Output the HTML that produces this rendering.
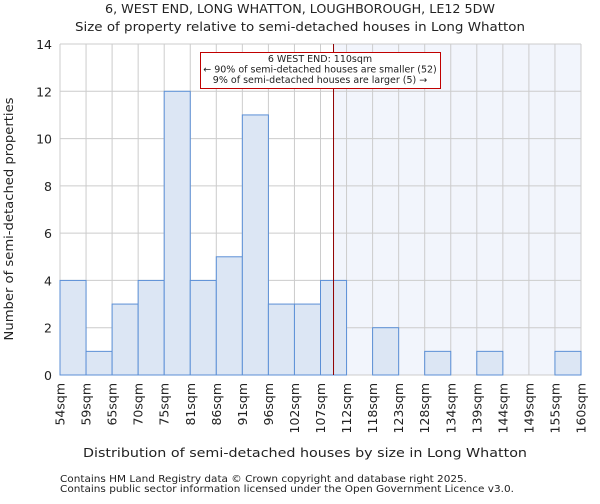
<!DOCTYPE html>
<html><head><meta charset="utf-8"><style>
body{margin:0;background:#fff;font-family:"DejaVu Sans","Liberation Sans",sans-serif}
svg text{font-family:"DejaVu Sans","Liberation Sans",sans-serif;fill:#222}
</style></head><body>
<svg id="chart" width="600" height="500">
<text x="300" y="13" font-size="12" text-anchor="middle" textLength="390" lengthAdjust="spacingAndGlyphs">6, WEST END, LONG WHATTON, LOUGHBOROUGH, LE12 5DW</text>
<text x="300" y="31" font-size="12" text-anchor="middle" textLength="450" lengthAdjust="spacingAndGlyphs">Size of property relative to semi-detached houses in Long Whatton</text>
<g id="plot"></g>
<text x="305" y="457" font-size="12" text-anchor="middle" textLength="444" lengthAdjust="spacingAndGlyphs">Distribution of semi-detached houses by size in Long Whatton</text>
<text transform="translate(13,219) rotate(-90)" font-size="12" text-anchor="middle" textLength="243" lengthAdjust="spacingAndGlyphs">Number of semi-detached properties</text>
<text x="60" y="482" font-size="10" textLength="407" lengthAdjust="spacingAndGlyphs">Contains HM Land Registry data © Crown copyright and database right 2025.</text>
<text x="60" y="492" font-size="10" textLength="454" lengthAdjust="spacingAndGlyphs">Contains public sector information licensed under the Open Government Licence v3.0.</text>
</svg>
<script>
const binLabels=["54sqm","59sqm","65sqm","70sqm","75sqm","81sqm","86sqm","91sqm","96sqm","102sqm","107sqm","112sqm","118sqm","123sqm","128sqm","134sqm","139sqm","144sqm","149sqm","155sqm","160sqm"];
const counts=[4,1,3,4,12,4,5,11,3,3,4,0,2,0,1,0,1,0,0,1];
const yTicks=[0,2,4,6,8,10,12,14];
const markerBin=10.5;
const ns="http://www.w3.org/2000/svg";
const g=document.getElementById("plot");
const L=60,R=581,T=44,B=375,yMax=14;
const bw=(R-L)/counts.length;
const x=i=>L+i*bw;
const y=v=>B-(v/yMax)*(B-T);
function mk(t,a,p){const e=document.createElementNS(ns,t);for(const k in a)e.setAttribute(k,a[k]);(p||g).appendChild(e);return e;}
const mx=x(markerBin);
let sh=mk("rect",{x:mx,y:T,width:R-mx,height:B-T,fill:"#f2f5fc"});


for(let i=0;i<binLabels.length;i++){const l=mk("line",{x1:x(i),x2:x(i),y1:T,y2:B,stroke:"#ccc","stroke-width":1});

}
yTicks.forEach(v=>{const l=mk("line",{x1:L,x2:R,y1:y(v),y2:y(v),stroke:"#ccc","stroke-width":1});


const t=mk("text",{x:L-8,y:y(v)+5,"font-size":12.5,"text-anchor":"end"});t.textContent=v;

});
counts.forEach((c,i)=>{if(c<=0)return;const r=mk("rect",{x:x(i),y:y(c),width:bw,height:y(0)-y(c),fill:"#dce6f4",stroke:"#5b8fd6","stroke-width":1});

});
binLabels.forEach((s,i)=>{const t=mk("text",{transform:`translate(${x(i)+4.5},${B+8}) rotate(-90)`,"font-size":12.5,"text-anchor":"end"});t.textContent=s;

});
const ml=mk("line",{x1:mx,x2:mx,y1:T,y2:B,stroke:"#900000","stroke-width":1});


const box=mk("rect",{x:200.5,y:52.5,width:240,height:36,fill:"#fff",stroke:"#c00000","stroke-width":1});


["6 WEST END: 110sqm","← 90% of semi-detached houses are smaller (52)","9% of semi-detached houses are larger (5) →"].forEach((s,k)=>{const t=mk("text",{x:320,y:62+k*10.5,"font-size":9.5,"text-anchor":"middle"});t.textContent=s;

});
</script>
</body></html>
